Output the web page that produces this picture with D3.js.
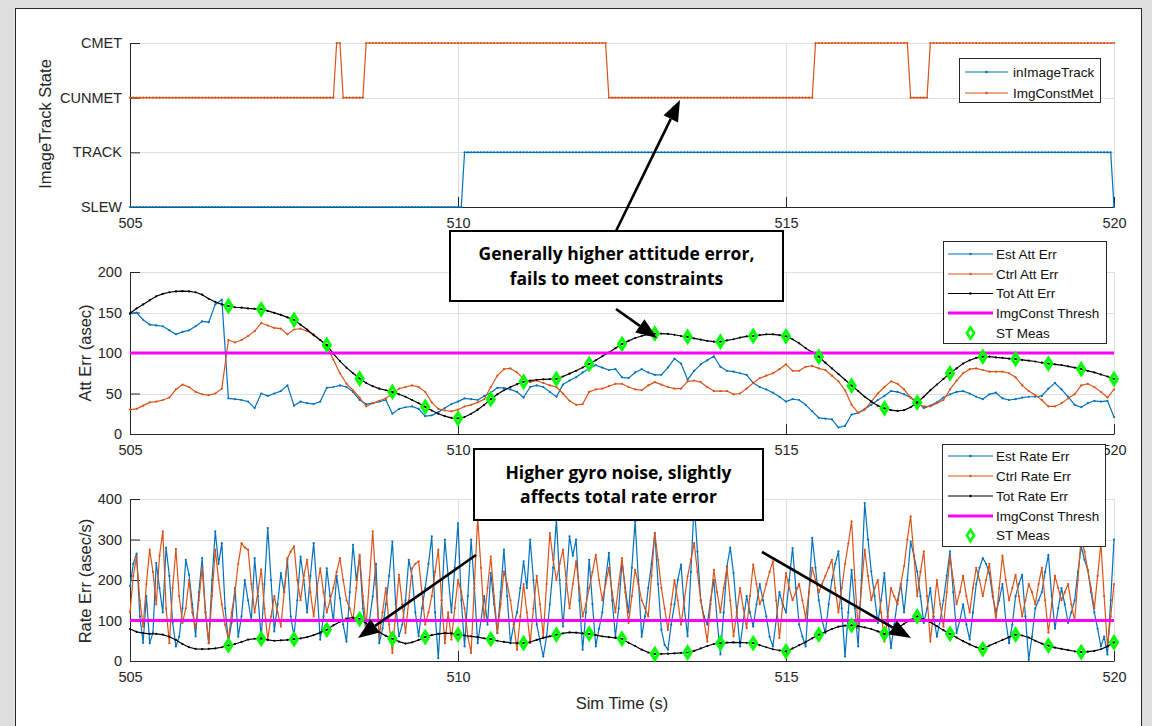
<!DOCTYPE html>
<html>
<head>
<meta charset="utf-8">
<script src="https://cdn.jsdelivr.net/npm/d3@7"></script>
<style>
  html, body { margin: 0; padding: 0; background: #dedede; }
  svg { display: block; }
</style>
</head>
<body>
<svg id="chart" width="1152" height="726"></svg>
<script>
// ---------------- data ----------------
const xTicks = [505, 510, 515, 520];
const stateLabels = ["SLEW", "TRACK", "CUNMET", "CMET"];
const stateTicks = [0, 1, 2, 3];
const attTicks = [0, 50, 100, 150, 200];
const rateTicks = [0, 100, 200, 300, 400];

// ImageTrack state samples, 505 s .. 520 s every 0.05 s (0=SLEW, 1=TRACK, 2=CUNMET, 3=CMET)
const stateT0 = 505, stateDt = 0.05;
const inImageTrack = [
  0,0,0,0,0,0,0,0,0,0,0,0,0,0,0,0,0,0,0,0,
  0,0,0,0,0,0,0,0,0,0,0,0,0,0,0,0,0,0,0,0,
  0,0,0,0,0,0,0,0,0,0,0,0,0,0,0,0,0,0,0,0,
  0,0,0,0,0,0,0,0,0,0,0,0,0,0,0,0,0,0,0,0,
  0,0,0,0,0,0,0,0,0,0,0,0,0,0,0,0,0,0,0,0,
  0,0,1,1,1,1,1,1,1,1,1,1,1,1,1,1,1,1,1,1,
  1,1,1,1,1,1,1,1,1,1,1,1,1,1,1,1,1,1,1,1,
  1,1,1,1,1,1,1,1,1,1,1,1,1,1,1,1,1,1,1,1,
  1,1,1,1,1,1,1,1,1,1,1,1,1,1,1,1,1,1,1,1,
  1,1,1,1,1,1,1,1,1,1,1,1,1,1,1,1,1,1,1,1,
  1,1,1,1,1,1,1,1,1,1,1,1,1,1,1,1,1,1,1,1,
  1,1,1,1,1,1,1,1,1,1,1,1,1,1,1,1,1,1,1,1,
  1,1,1,1,1,1,1,1,1,1,1,1,1,1,1,1,1,1,1,1,
  1,1,1,1,1,1,1,1,1,1,1,1,1,1,1,1,1,1,1,1,
  1,1,1,1,1,1,1,1,1,1,1,1,1,1,1,1,1,1,1,1,
  0
];
const imgConstMet = [
  2,2,2,2,2,2,2,2,2,2,2,2,2,2,2,2,2,2,2,2,
  2,2,2,2,2,2,2,2,2,2,2,2,2,2,2,2,2,2,2,2,
  2,2,2,2,2,2,2,2,2,2,2,2,2,2,2,2,2,2,2,2,
  2,2,2,3,3,2,2,2,2,2,2,2,3,3,3,3,3,3,3,3,
  3,3,3,3,3,3,3,3,3,3,3,3,3,3,3,3,3,3,3,3,
  3,3,3,3,3,3,3,3,3,3,3,3,3,3,3,3,3,3,3,3,
  3,3,3,3,3,3,3,3,3,3,3,3,3,3,3,3,3,3,3,3,
  3,3,3,3,3,3,2,2,2,2,2,2,2,2,2,2,2,2,2,2,
  2,2,2,2,2,2,2,2,2,2,2,2,2,2,2,2,2,2,2,2,
  2,2,2,2,2,2,2,2,2,2,2,2,2,2,2,2,2,2,2,2,
  2,2,2,2,2,2,2,2,2,3,3,3,3,3,3,3,3,3,3,3,
  3,3,3,3,3,3,3,3,3,3,3,3,3,3,3,3,3,3,2,2,
  2,2,2,2,3,3,3,3,3,3,3,3,3,3,3,3,3,3,3,3,
  3,3,3,3,3,3,3,3,3,3,3,3,3,3,3,3,3,3,3,3,
  3,3,3,3,3,3,3,3,3,3,3,3,3,3,3,3,3,3,3,3,
  3
];

// Attitude error histories, 505 s .. 520 s every 0.1 s
const attT0 = 505, attDt = 0.1;
const estAttErr = [
  148,150,141,135,134,133,128,123,126,128,
  133,139,138,160,166,44,43,42,40,32,
  50,47,50,53,60,35,40,38,37,40,
  57,58,60,58,52,42,37,38,40,42,
  25,31,33,34,31,22,23,27,32,37,
  40,44,43,42,47,51,57,57,55,52,
  45,58,60,58,52,46,61,66,70,76,
  81,85,82,79,80,70,69,76,80,76,
  73,73,82,93,87,67,78,86,91,96,
  83,78,77,75,73,63,58,55,51,46,
  40,43,42,36,28,20,19,18,8,10,
  24,26,31,36,42,47,53,52,49,45,
  40,32,35,39,45,49,52,53,50,46,
  43,49,51,44,42,43,45,46,46,47,
  56,63,55,46,36,33,38,41,40,41,
  21
];
const ctrlAttErr = [
  30,31,35,39,40,42,45,55,61,58,
  52,49,48,50,56,116,113,116,121,127,
  137,134,131,130,123,129,130,127,123,116,
  108,92,75,62,54,45,34,38,41,44,
  50,56,58,60,58,52,39,31,29,28,
  30,34,36,39,43,58,72,80,81,76,
  68,64,66,63,60,58,50,41,36,37,
  52,55,56,59,62,62,58,55,54,60,
  64,61,58,56,56,65,66,64,58,53,
  53,53,49,50,56,63,69,72,75,80,
  86,78,78,83,84,81,79,72,65,54,
  36,26,30,40,50,58,65,62,55,45,
  37,34,34,38,42,55,66,75,80,81,
  79,77,77,77,75,70,60,53,48,42,
  34,34,38,44,49,60,62,58,52,45,
  55
];
const totAttErr = [
  149,155,160,165,170,173,175,176,176.5,176,
  175,172,167,163,160,158,156.5,156,155,154.5,
  154,152,149.5,147,144,141,135,129,122,116,
  110,99,90,82,75,68.5,63,59,56,54,
  52,49,46,42,38,33.5,29,25,22,20,
  19.3,21,25,30,36,43,49,54,58,61.5,
  64.5,66,67,67.5,67.8,68,71,74.5,78,82,
  86.4,91,96,100.5,106,111,115,118.5,121,123,
  124,124,123.5,122.5,121,120,118,116.5,115,114,
  114,115.5,117,119,120.5,121,122,123,123,122,
  120.6,117,112,106,101,95.5,88,81,74,67,
  59.7,53,46,40,35,31.7,29.5,28.5,29.5,33,
  39,46,54,61,68,75,81,87,91,94,
  95.5,95.5,94.5,94,93,92.6,91.5,90.5,89.5,88,
  87,86,85,83.5,82,80,78,76,73.5,71,
  68
];

// Rate error histories, 505 s .. 520 s every 0.05 s
const rateT0 = 505, rateDt = 0.05;
const estRateErr = [
  185,240,265,110,45,160,44,70,242,180,120,280,210,95,36,60,130,250,213,140,
  61,170,254,120,44,200,320,240,291,130,48,95,180,60,110,200,150,100,254,160,
  57,190,328,200,73,140,217,170,250,110,61,150,258,200,120,210,291,180,53,110,
  229,160,98,210,155,90,48,170,287,200,258,130,69,100,159,240,44,80,140,210,
  295,140,61,90,150,250,209,120,61,130,180,240,308,120,7,150,300,210,120,230,
  340,150,36,160,300,180,44,100,160,90,217,140,69,170,275,160,44,90,120,180,
  246,180,300,200,90,50,11,60,140,230,349,200,85,190,308,260,300,150,28,120,
  250,140,36,80,120,200,267,150,61,130,246,180,120,230,345,200,60,110,180,240,
  316,190,77,40,28,90,140,200,238,130,61,220,390,270,150,110,90,150,200,100,
  16,120,234,280,217,120,36,100,160,120,85,140,190,150,110,60,36,100,170,140,
  120,200,279,180,90,60,36,170,304,230,150,100,69,140,200,240,271,130,11,120,
  225,130,36,200,390,300,221,160,94,150,217,110,32,90,150,190,120,200,295,260,
  221,160,94,130,180,110,60,100,150,210,271,170,69,100,140,90,53,120,190,230,
  254,240,217,160,120,150,190,100,44,90,160,190,213,110,3,60,130,150,170,220,
  262,160,80,130,180,140,94,120,150,220,283,250,225,170,120,80,36,60,16,150,
  300
];
const ctrlRateErr = [
  120,210,258,150,85,190,275,220,140,260,320,130,44,180,276,160,94,130,200,120,
  81,150,230,120,44,160,275,200,140,90,53,120,170,240,291,280,275,190,120,170,
  226,130,53,110,160,120,85,170,254,270,283,200,150,210,250,170,110,180,229,170,
  120,150,180,220,254,200,150,130,100,180,262,160,85,200,320,190,61,120,180,90,
  20,120,213,140,69,150,229,240,246,170,90,120,160,220,275,150,44,120,53,130,
  200,170,130,60,20,190,353,230,100,180,258,160,69,140,221,190,150,90,28,110,
  190,120,44,130,210,140,61,190,316,250,200,240,275,200,130,190,246,180,110,140,
  180,220,262,200,150,190,230,170,120,190,254,170,94,160,225,190,150,130,110,210,
  316,250,180,130,77,140,200,150,90,150,209,250,291,220,150,100,48,140,225,170,
  120,180,230,150,61,120,180,130,81,160,238,190,140,160,190,220,246,150,57,140,
  217,180,150,170,190,150,106,170,230,200,170,190,210,230,250,180,120,180,240,290,
  345,200,81,180,275,210,150,180,200,120,48,110,180,160,140,190,234,300,357,260,
  160,220,271,160,48,120,200,140,85,170,258,200,140,170,210,160,120,180,230,200,
  160,200,240,170,100,180,260,200,150,180,213,160,110,150,190,170,140,190,230,150,
  70,140,210,180,150,170,190,140,100,200,308,270,225,180,130,210,291,160,36,110,
  190
];
// Total rate error, 505 s .. 520 s every 0.1 s
const totT0 = 505, totDt = 0.1;
const totRateErr = [
  79,72,69,67,67,65,60,52,42,34,
  30,29.5,30,31,34,38.6,42,47,53,55,
  55,52,50,51,52,54,56,59,64,70,
  77,88,97,105,107,103.6,93,82,71,62,
  55,48,43,46,52,59,64,67,69,68,
  65,63,61,59,56,54,50,47,45,44,
  44,47,52,57,61,65,68,70.5,70,68,
  67,64,61,59,57,55,45,37,28,21,
  17,17.5,18,19,20,21,25,31,37,42,
  44,45.5,46,45.5,45,44,39,34,29,26,
  24,31,39,47,56,65,72,79,85,87.5,
  88,86,83,79,73,67,72,81,92,102,
  110,103,96,86,76,67,58,49,41,34,
  29.5,38,45,52,59,65,63,58,50,43,
  38,33,30,27,24,22,23,25,29,36,
  46
];

// Star tracker measurement epochs and values
const stMeasTime = [506.5,507,507.5,508,508.5,509,509.5,510,510.5,511,511.5,512,512.5,513,
                    513.5,514,514.5,515,515.5,516,516.5,517,517.5,518,518.5,519,519.5,520];
const stAttMeas = [158,154,141,110,68.5,52,33.5,19.3,43,64.5,68,86.4,111,124,
                   120,114,121,120.6,95.5,59.7,31.7,39,75,95.5,92.6,87,80,68];
const stRateMeas = [38.6,55,54,77,103.6,55,59,65,54,44,65,67,55,17,
                    21,44,44,24,65,88,67,110,67,29.5,65,38,22,46];

const imgConstThresh = 100;
const timeSpan = [505, 520];

const topLegend = ["inImageTrack", "ImgConstMet"];
const attLegend = ["Est Att Err", "Ctrl Att Err", "Tot Att Err", "ImgConst Thresh", "ST Meas"];
const rateLegend = ["Est Rate Err", "Ctrl Rate Err", "Tot Rate Err", "ImgConst Thresh", "ST Meas"];

// ---------------- styling ----------------
const BLUE = "#0072bd", ORANGE = "#d95319", BLACK = "#000000", MAGENTA = "#ff00ff", GREEN = "#00ff00";
const AXIS = "#262626", GRID = "#dfdfdf";
const FONT = "'Liberation Sans', Arial, Helvetica, sans-serif";
const NOTE_FONT = "'Open Sans', Lato, sans-serif";

const svg = d3.select("#chart");

// white figure area with border
svg.append("rect")
  .attr("x", 15.5).attr("y", 8.5).attr("width", 1126).attr("height", 760)
  .attr("fill", "#ffffff").attr("stroke", "#2a2a2a").attr("stroke-width", 1);

const x = d3.scaleLinear().domain(timeSpan).range([130, 1114]);
const yState = d3.scaleLinear().domain([0, 3]).range([207, 43]);
const yAtt = d3.scaleLinear().domain([0, 200]).range([434, 272]);
const yRate = d3.scaleLinear().domain([0, 400]).range([661, 499]);

function drawAxes(y, ticks, fmt) {
  const g = svg.append("g");
  const [x0, x1] = x.range();
  const [yb, yt] = y.range();
  g.append("g").selectAll("line").data(ticks).join("line")
    .attr("x1", x0).attr("x2", x1)
    .attr("y1", d => Math.round(y(d)) + 0.5).attr("y2", d => Math.round(y(d)) + 0.5)
    .attr("stroke", GRID).attr("stroke-width", 1);
  g.append("g").selectAll("line").data(xTicks).join("line")
    .attr("x1", d => Math.round(x(d)) + 0.5).attr("x2", d => Math.round(x(d)) + 0.5)
    .attr("y1", yt).attr("y2", yb)
    .attr("stroke", GRID).attr("stroke-width", 1);

  const ax = g.append("g").attr("transform", `translate(0,${yb})`)
    .call(d3.axisBottom(x).tickValues(xTicks).tickSizeInner(-10).tickSizeOuter(0)
      .tickPadding(11).tickFormat(d3.format("d")));
  const ay = g.append("g").attr("transform", `translate(${x0},0)`)
    .call(d3.axisLeft(y).tickValues(ticks).tickSizeInner(-10).tickSizeOuter(0)
      .tickPadding(8).tickFormat(fmt));
  [ax, ay].forEach(a => {
    a.select(".domain").attr("stroke", AXIS);
    a.selectAll(".tick line").attr("stroke", AXIS);
    a.selectAll(".tick text").attr("fill", AXIS)
      .style("font-family", FONT).style("font-size", "14.5px");
  });
  return g;
}

function drawSeries(y, values, t0, dt, color) {
  const pts = values.map((v, i) => [x(t0 + i * dt), y(v)]);
  const g = svg.append("g");
  g.append("path").attr("d", d3.line()(pts))
    .attr("fill", "none").attr("stroke", color).attr("stroke-width", 1.2)
    .attr("stroke-linejoin", "round");
  g.append("g").selectAll("circle").data(pts).join("circle")
    .attr("cx", d => d[0]).attr("cy", d => d[1]).attr("r", 1.1).attr("fill", color);
}

function drawThreshold(y) {
  svg.append("line")
    .attr("x1", x(timeSpan[0])).attr("x2", x(timeSpan[1]))
    .attr("y1", y(imgConstThresh)).attr("y2", y(imgConstThresh))
    .attr("stroke", MAGENTA).attr("stroke-width", 3.2);
}

function diamondPath(w, h) {
  return `M0,${-h}L${w},0L0,${h}L${-w},0Z`;
}

function drawMeas(y, values) {
  svg.append("g").selectAll("path").data(values).join("path")
    .attr("transform", (d, i) => `translate(${x(stMeasTime[i])},${y(d)})`)
    .attr("d", diamondPath(3.4, 5.4))
    .attr("fill", "none").attr("stroke", GREEN).attr("stroke-width", 3.2);
}

function drawLegend(x0, y0, w, h, rows, lineX1, lineX2, textX, entries) {
  const g = svg.append("g");
  g.append("rect").attr("x", x0 + 0.5).attr("y", y0 + 0.5).attr("width", w).attr("height", h)
    .attr("fill", "#fff").attr("stroke", AXIS).attr("stroke-width", 1);
  entries.forEach((e, i) => {
    const yy = rows[i];
    const mid = (lineX1 + lineX2) / 2;
    if (e.kind === "line") {
      g.append("line").attr("x1", lineX1).attr("x2", lineX2).attr("y1", yy).attr("y2", yy)
        .attr("stroke", e.color).attr("stroke-width", 1.2);
      g.append("circle").attr("cx", mid).attr("cy", yy).attr("r", 1.2).attr("fill", e.color);
    } else if (e.kind === "thick") {
      g.append("line").attr("x1", lineX1).attr("x2", lineX2).attr("y1", yy).attr("y2", yy)
        .attr("stroke", e.color).attr("stroke-width", 3.2);
    } else {
      g.append("path").attr("transform", `translate(${mid},${yy})`)
        .attr("d", diamondPath(3.6, 5.6))
        .attr("fill", "none").attr("stroke", e.color).attr("stroke-width", 2.6);
    }
    g.append("text").attr("x", textX).attr("y", yy).attr("dy", "0.35em")
      .style("font-family", FONT).style("font-size", "13.5px").attr("fill", "#111")
      .text(e.label);
  });
}

function axisLabel(text, cx, cy, rotate) {
  svg.append("text")
    .attr("transform", `translate(${cx},${cy})` + (rotate ? " rotate(-90)" : ""))
    .attr("text-anchor", "middle").attr("dy", "0.35em")
    .style("font-family", FONT).style("font-size", "16.5px").attr("fill", AXIS)
    .text(text);
}

function arrow(x1, y1, x2, y2) {
  const ang = Math.atan2(y2 - y1, x2 - x1);
  const len = 21, half = 8;
  const bx = x2 - len * Math.cos(ang), by = y2 - len * Math.sin(ang);
  const px = -Math.sin(ang) * half, py = Math.cos(ang) * half;
  svg.append("line").attr("x1", x1).attr("y1", y1).attr("x2", bx).attr("y2", by)
    .attr("stroke", "#000").attr("stroke-width", 2.6);
  svg.append("path")
    .attr("d", `M${x2},${y2}L${bx + px},${by + py}L${bx - px},${by - py}Z`)
    .attr("fill", "#000");
}

function noteBox(x0, y0, w, h, lines, baselines) {
  svg.append("rect").attr("x", x0).attr("y", y0).attr("width", w).attr("height", h)
    .attr("fill", "#fff").attr("stroke", "#000").attr("stroke-width", 2);
  lines.forEach((t, i) => {
    svg.append("text").attr("x", x0 + w / 2).attr("y", baselines[i])
      .attr("text-anchor", "middle")
      .style("font-family", NOTE_FONT).style("font-weight", "700").style("font-size", "17.5px")
      .attr("fill", "#000").text(t);
  });
}

// ---------------- top: image-track state ----------------
drawAxes(yState, stateTicks, d => stateLabels[d]);
drawSeries(yState, inImageTrack, stateT0, stateDt, BLUE);
drawSeries(yState, imgConstMet, stateT0, stateDt, ORANGE);
axisLabel("ImageTrack State", 45, 124, true);

// ---------------- middle: attitude error ----------------
drawAxes(yAtt, attTicks, d3.format("d"));
drawSeries(yAtt, estAttErr, attT0, attDt, BLUE);
drawSeries(yAtt, ctrlAttErr, attT0, attDt, ORANGE);
drawSeries(yAtt, totAttErr, attT0, attDt, BLACK);
drawThreshold(yAtt);
drawMeas(yAtt, stAttMeas);
axisLabel("Att Err (asec)", 85, 353, true);

// ---------------- bottom: rate error ----------------
drawAxes(yRate, rateTicks, d3.format("d"));
drawSeries(yRate, estRateErr, rateT0, rateDt, BLUE);
drawSeries(yRate, ctrlRateErr, rateT0, rateDt, ORANGE);
drawSeries(yRate, totRateErr, totT0, totDt, BLACK);
drawThreshold(yRate);
drawMeas(yRate, stRateMeas);
axisLabel("Rate Err (asec/s)", 85, 581, true);
axisLabel("Sim Time (s)", 622, 703, false);

// ---------------- legends ----------------
drawLegend(959, 58, 141, 44, [72, 93], 965, 1008, 1013, [
  { kind: "line", color: BLUE, label: topLegend[0] },
  { kind: "line", color: ORANGE, label: topLegend[1] }
]);
const legendKinds = [
  { kind: "line", color: BLUE }, { kind: "line", color: ORANGE }, { kind: "line", color: BLACK },
  { kind: "thick", color: MAGENTA }, { kind: "diamond", color: GREEN }
];
drawLegend(943, 241, 163, 102, [254, 274, 293.5, 313, 333], 948, 993, 996,
  legendKinds.map((k, i) => Object.assign({ label: attLegend[i] }, k)));
drawLegend(942, 444, 163, 102, [456, 476, 496, 516, 535.5], 948, 993, 996,
  legendKinds.map((k, i) => Object.assign({ label: rateLegend[i] }, k)));

// ---------------- annotations ----------------
arrow(616, 231, 680, 100);
noteBox(450, 231, 333, 70, ["Generally higher attitude error,", "fails to meet constraints"], [260, 285]);
arrow(616, 309, 657, 338);

noteBox(474, 449, 289, 71, ["Higher gyro noise, slightly", "affects total rate error"], [479, 503]);
arrow(476, 555, 358, 638);
arrow(762, 552, 911, 638);
</script>
</body>
</html>
